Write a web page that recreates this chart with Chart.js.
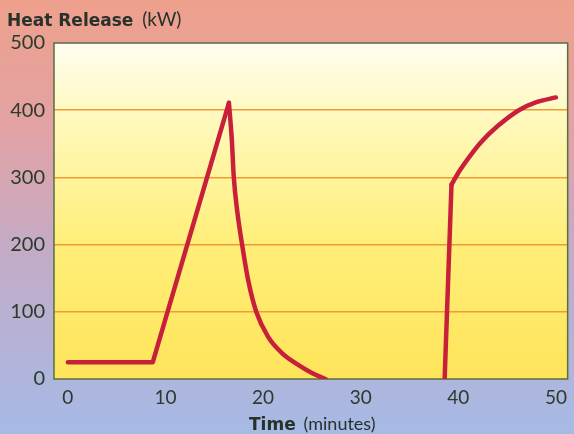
<!DOCTYPE html>
<html>
<head>
<meta charset="utf-8">
<script src="https://cdn.jsdelivr.net/npm/chart.js@4/dist/chart.umd.min.js"></script>
<style>
  html, body { margin: 0; padding: 0; background: #c8aab8; }
  #wrap { width: 574px; height: 434px; }
</style>
</head>
<body>
<div id="wrap"><canvas id="chartHeat" width="574" height="434"></canvas></div>
<script>
// time in minutes, heat release in kW
var riseTime = [0, 8.7, 16.5];
var riseKw = [25, 25, 411];
var decayTime = [16.5, 16.8, 17.0, 17.35, 17.85, 18.5, 19.3, 20.5, 21.9, 23.6, 25.0, 26.4];
var decayKw = [411, 355, 300, 250, 200, 145, 100, 63, 39, 21, 9, 0];
var jumpTime = [38.6, 39.3];
var jumpKw = [0, 289];
var regrowTime = [39.3, 40.0, 41.0, 42.3, 44.0, 46.2, 48.0, 50.0];
var regrowKw = [289, 307, 328, 352, 376, 400, 412, 419];
var xTicks = [0, 10, 20, 30, 40, 50];
var yTicks = [0, 100, 200, 300, 400, 500];

function toPoints(xs, ys) {
  return xs.map(function(t, i) { return { x: t, y: ys[i] }; });
}

function lineSet(xs, ys, smooth) {
  return {
    data: toPoints(xs, ys),
    borderColor: '#c8203a',
    borderWidth: 4.5,
    pointRadius: 0,
    cubicInterpolationMode: smooth ? 'monotone' : 'default',
    tension: smooth ? 0.4 : 0,
    borderCapStyle: 'round',
    borderJoinStyle: 'round'
  };
}

var backdrop = {
  id: 'backdrop',
  beforeDraw: function(chart) {
    var c = chart.ctx, a = chart.chartArea;
    c.save();
    var bg = c.createLinearGradient(0, 0, 0, chart.height);
    bg.addColorStop(0, '#eea08c');
    bg.addColorStop(0.3, '#e2a2a4');
    bg.addColorStop(0.55, '#c6aac4');
    bg.addColorStop(1, '#a6bae6');
    c.fillStyle = bg;
    c.fillRect(0, 0, chart.width, chart.height);
    var pg = c.createLinearGradient(0, a.top, 0, a.bottom);
    pg.addColorStop(0, '#fffdf0');
    pg.addColorStop(0.25, '#fff8b8');
    pg.addColorStop(0.6, '#ffee78');
    pg.addColorStop(1, '#ffe45a');
    c.fillStyle = pg;
    c.fillRect(a.left, a.top, a.right - a.left, a.bottom - a.top);
    c.restore();
  },
  beforeDatasetsDraw: function(chart) {
    var c = chart.ctx, a = chart.chartArea;
    c.save();
    c.strokeStyle = '#56703f';
    c.lineWidth = 1.5;
    c.strokeRect(a.left, a.top, a.right - a.left, a.bottom - a.top);
    c.restore();
  },
  afterDraw: function(chart) {
    var c = chart.ctx;
    c.save();
    c.fillStyle = '#28312a';
    c.textBaseline = 'alphabetic';
    c.font = 'bold 17px "DejaVu Sans"';
    c.fillText('Heat Release', 7, 26);
    var w = c.measureText('Heat Release ').width;
    c.font = '19px Lato';
    c.fillText('(kW)', 7 + w + 3, 26);

    c.font = 'bold 17px "DejaVu Sans"';
    var w1 = c.measureText('Time ').width;
    c.fillText('Time', 249, 430);
    c.font = '18px Lato';
    c.fillText('(minutes)', 249 + w1 + 2, 430);
    c.restore();
  }
};

var ctx = document.getElementById('chartHeat').getContext('2d');
var chartHeat = new Chart(ctx, {
  type: 'line',
  data: {
    datasets: [
      lineSet(riseTime, riseKw, false),
      lineSet(decayTime, decayKw, true),
      lineSet(jumpTime, jumpKw, false),
      lineSet(regrowTime, regrowKw, true)
    ]
  },
  options: {
    responsive: false,
    animation: false,
    layout: { padding: { top: 43, right: 2, left: 0, bottom: 0 } },
    plugins: { legend: { display: false }, tooltip: { enabled: false } },
    scales: {
      x: {
        type: 'linear',
        min: -1.42,
        max: 51.2,
        afterBuildTicks: function(s) { s.ticks = xTicks.map(function(v) { return { value: v }; }); },
        afterFit: function(s) { s.height = 55; },
        grid: { display: false, drawTicks: false },
        border: { display: false },
        ticks: { padding: 7, color: '#2a3a2c', font: { family: 'Lato', size: 19 } }
      },
      y: {
        min: 0,
        max: 500,
        afterBuildTicks: function(s) { s.ticks = yTicks.map(function(v) { return { value: v }; }); },
        afterFit: function(s) { s.width = 54; },
        grid: {
          drawTicks: false,
          lineWidth: 1.5,
          color: function(c) { return (c.tick && (c.tick.value === 0 || c.tick.value === 500)) ? 'rgba(0,0,0,0)' : '#ef9a34'; }
        },
        border: { display: false },
        ticks: { padding: 9, color: '#2a3a2c', font: { family: 'Lato', size: 20 } }
      }
    }
  },
  plugins: [backdrop]
});
</script>
</body>
</html>
